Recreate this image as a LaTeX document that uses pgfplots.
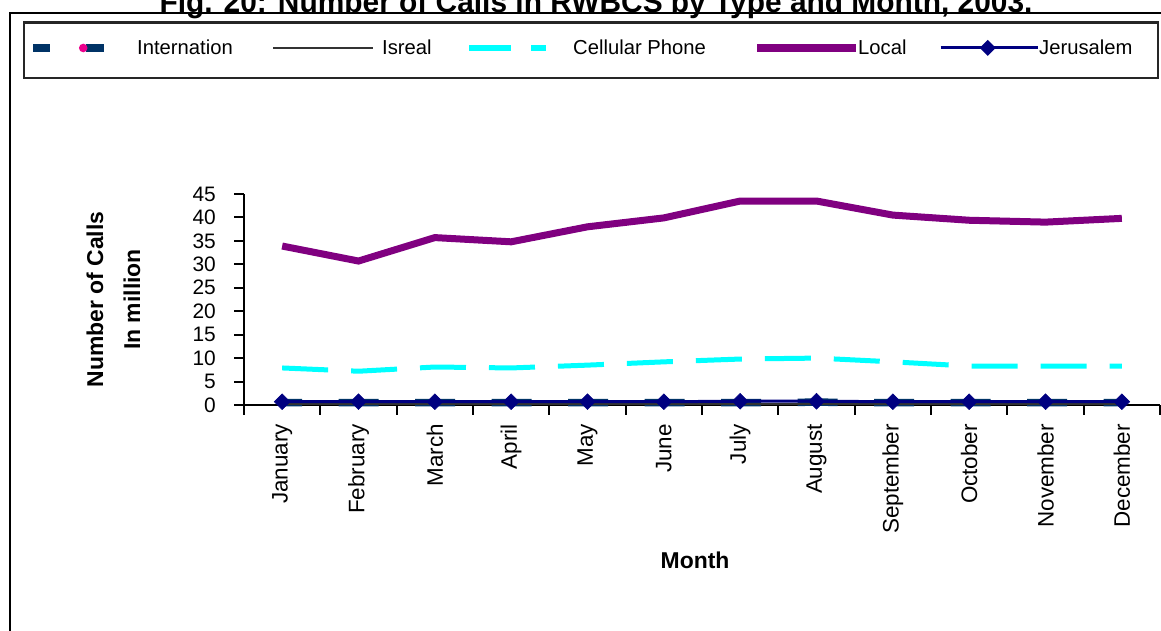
\documentclass[border=0pt]{standalone}
\usepackage{pgfplots}
\pgfplotsset{compat=1.18}
\usepackage{pgfplotstable}
\usepackage{fontspec}
\setmainfont{Liberation Sans}
\definecolor{navyline}{RGB}{0,0,128}
\definecolor{intl}{RGB}{0,51,102}
\definecolor{localc}{RGB}{128,0,128}
\definecolor{cellc}{RGB}{0,255,255}
\definecolor{isr}{RGB}{51,51,51}

\pgfplotstableread{
m local cell intl isr jer
1  33.9 7.9 0.5 0.3 0.7
2  30.7 7.2 0.5 0.3 0.7
3  35.7 8.1 0.5 0.3 0.7
4  34.8 7.9 0.5 0.3 0.7
5  38.0 8.5 0.5 0.3 0.7
6  39.9 9.2 0.5 0.3 0.7
7  43.5 9.8 0.5 0.3 0.8
8  43.5 10.0 0.6 0.3 0.8
9  40.5 9.2 0.5 0.3 0.7
10 39.4 8.3 0.5 0.3 0.7
11 39.0 8.3 0.5 0.3 0.7
12 39.8 8.3 0.5 0.3 0.7
}\data

\begin{document}
\begin{tikzpicture}[x=1bp,y=1bp]
\useasboundingbox (0,0) rectangle (1161,631);
\clip (0,0) rectangle (1161,631);
\node[anchor=base, inner sep=0pt, font=\fontsize{30}{34}\selectfont\bfseries] at (596,618.5) {Fig. 20:  Number of Calls in RWBCS by Type and Month, 2003.};
\draw[line width=2.5bp] (10,-5) -- (10,618) -- (1170,618);
\draw[line width=2.5bp, black!85] (24,608.5) rectangle (1158,553);
\begin{axis}[
  at={(244bp,226bp)}, anchor=south west,
  scale only axis, width=916bp, height=211bp,
  xmin=0.5, xmax=12.5, ymin=0, ymax=45,
  axis x line*=bottom, axis y line*=left,
  axis line style={line width=2bp, black},
  tick align=outside, major tick length=10bp,
  every tick/.style={black, line width=2bp},
  xtick={0.5,1.5,...,12.5}, xticklabels={},
  extra x ticks={1,2,...,12},
  extra x tick labels={January,February,March,April,May,June,July,August,September,October,November,December},
  extra x tick style={major tick length=0pt, xticklabel style={rotate=90, anchor=east, inner sep=0pt, font=\fontsize{22.5}{26}\selectfont}, xticklabel shift=19bp},
  ytick={0,5,...,45},
  yticklabel style={inner sep=0pt, anchor=east, font=\fontsize{21}{25}\selectfont},
  yticklabel shift=18bp,
  /pgf/number format/assume math mode=true,
  xlabel={Month},
  every axis x label/.style={at={(axis description cs:0.4924,-0.7346)}, anchor=center, font=\fontsize{23}{27}\selectfont\bfseries},
  ylabel={Number of Calls\\In million},
  every axis y label/.style={at={(axis description cs:-0.1425,0.5)}, rotate=90, anchor=center, align=center, font=\fontsize{23}{37}\selectfont\bfseries},
  legend columns=5,
  legend style={at={(axis description cs:-0.2303,1.6920)}, anchor=west, draw=none, fill=none, inner sep=0pt, column sep=0pt, nodes={inner sep=0pt, font=\fontsize{20.3}{24}\selectfont}},
  clip=false,
]
\addplot[intl, line width=7.5bp, dash pattern=on 40bp off 36.5bp, dash phase=20bp,
  legend image code/.code={
    \path[fill=intl, draw=none] (0bp,-3.75bp) rectangle (17bp,3.75bp);
    \path[fill=intl, draw=none] (53bp,-3.75bp) rectangle (71bp,3.75bp);
    \path[fill=magenta, draw=none] (50bp,0bp) circle (4.3bp);
    \path[draw=none, fill=none] (0bp,0bp) -- (104bp,0bp);
  }] table[x=m,y=intl]{\data};
\addlegendentry{\makebox[135bp][l]{Internation}}
\addplot[isr, line width=2bp,
  legend image code/.code={
    \path[draw=isr, line width=2bp, solid] (0bp,0bp) -- (100bp,0bp);
    \path[draw=none, fill=none] (0bp,0bp) -- (109bp,0bp);
  }] table[x=m,y=isr]{\data};
\addlegendentry{\makebox[87bp][l]{Isreal}}
\addplot[cellc, line width=5bp, dash pattern=on 46bp off 23bp,
  legend image code/.code={
    \path[fill=cellc, draw=none] (0bp,-3bp) rectangle (42bp,3bp);
    \path[fill=cellc, draw=none] (62bp,-3bp) rectangle (77bp,3bp);
    \path[draw=none, fill=none] (0bp,0bp) -- (104bp,0bp);
  }] table[x=m,y=cell]{\data};
\addlegendentry{\makebox[184bp][l]{Cellular Phone}}
\addplot[localc, line width=7bp,
  legend image code/.code={
    \path[fill=localc, draw=none] (0bp,-4bp) rectangle (99bp,4bp);
    \path[draw=none, fill=none] (0bp,0bp) -- (101bp,0bp);
  }] table[x=m,y=local]{\data};
\addlegendentry{\makebox[81bp][l]{Local}}
\addplot[navyline, line width=3bp, mark=square*, mark size=5.6bp, mark options={rotate=45, fill=navyline, draw=navyline, line width=0.5bp},
  legend image code/.code={
    \path[draw=navyline, line width=3bp, solid] (0bp,0bp) -- (97bp,0bp);
    \path[fill=navyline, draw=none] (47bp,8bp) -- (55bp,0bp) -- (47bp,-8bp) -- (39bp,0bp) -- cycle;
    \path[draw=none, fill=none] (0bp,0bp) -- (98bp,0bp);
  }] table[x=m,y=jer]{\data};
\addlegendentry{\makebox[100bp][l]{Jerusalem}}
\end{axis}
\end{tikzpicture}
\end{document}
